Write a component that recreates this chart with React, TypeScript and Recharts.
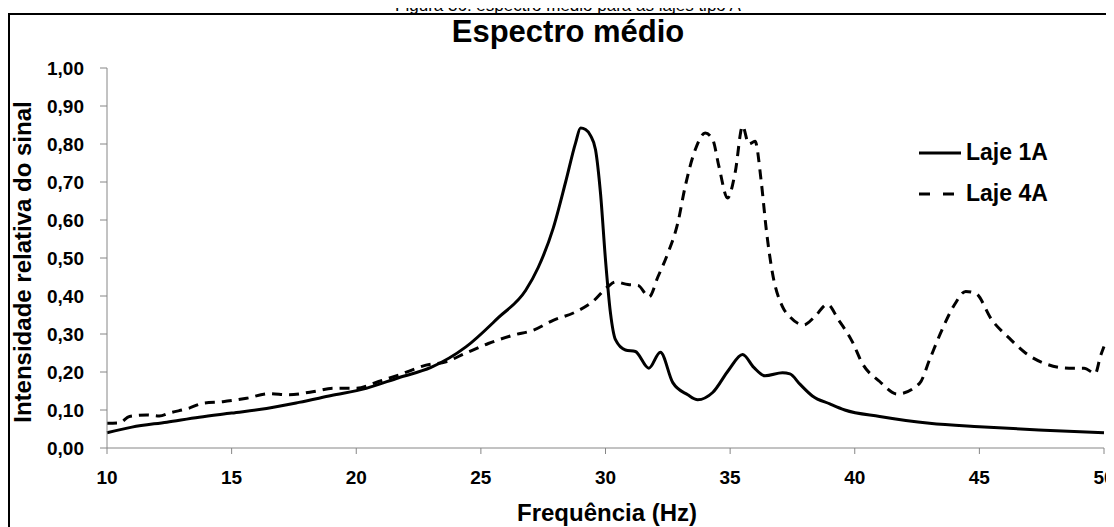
import React from 'react';
import { LineChart, Line, XAxis, YAxis, Legend } from 'recharts';

// Frequency (Hz) and relative signal intensity, slab 1A
const laje1aFreq = [
  10.0, 11.0, 12.4, 13.7, 15.0, 16.4, 17.7, 19.0, 20.4, 21.7, 23.0, 24.4, 25.7, 26.8, 27.3, 27.9,
  28.4, 28.8, 29.0, 29.2, 29.4, 29.6, 29.8, 30.0, 30.2, 30.4, 30.8, 31.2, 31.74, 32.2, 32.7, 33.3,
  33.7, 34.3, 34.95, 35.5, 35.95, 36.4, 37.1, 37.4, 37.8, 38.3, 39.0, 39.6, 41.0, 43.0, 45.0, 47.6, 50.0,
];
const laje1aValues = [
  0.040, 0.055, 0.068, 0.081, 0.092, 0.104, 0.120, 0.138, 0.157, 0.185, 0.212, 0.266, 0.343, 0.415, 0.475, 0.578,
  0.700, 0.803, 0.842, 0.838, 0.822, 0.785, 0.670, 0.495, 0.355, 0.285, 0.258, 0.254, 0.210, 0.252, 0.172, 0.140,
  0.127, 0.146, 0.206, 0.246, 0.212, 0.190, 0.198, 0.195, 0.168, 0.137, 0.116, 0.100, 0.083, 0.065, 0.056, 0.047, 0.040,
];

// Frequency (Hz) and relative signal intensity, slab 4A
const laje4aFreq = [
  10.0, 10.5, 10.9, 11.6, 12.1, 12.5, 13.3, 13.85, 14.65, 15.6, 16.5, 17.3, 18.25, 19.1, 20.0, 20.9,
  21.7, 22.8, 23.6, 24.4, 25.3, 26.3, 27.1, 27.9, 28.8, 29.5, 30.1, 30.4, 30.9, 31.3, 31.75, 32.1,
  32.5, 32.9, 33.2, 33.6, 34.0, 34.3, 34.55, 34.9, 35.2, 35.5, 35.75, 36.0, 36.25, 36.45, 36.7, 37.1,
  37.4, 37.95, 38.4, 38.9, 39.35, 39.9, 40.3, 41.0, 41.7, 42.6, 43.0, 43.5, 44.0, 44.45, 44.85, 45.5,
  46.2, 46.85, 47.6, 48.6, 49.2, 49.65, 49.85, 50.0,
];
const laje4aValues = [
  0.065, 0.066, 0.083, 0.087, 0.084, 0.092, 0.105, 0.118, 0.122, 0.131, 0.143, 0.140, 0.148, 0.157, 0.157, 0.175,
  0.192, 0.218, 0.227, 0.250, 0.275, 0.297, 0.310, 0.336, 0.358, 0.386, 0.425, 0.437, 0.430, 0.428, 0.398, 0.450,
  0.512, 0.592, 0.689, 0.785, 0.829, 0.812, 0.741, 0.658, 0.724, 0.847, 0.800, 0.807, 0.700, 0.575, 0.460, 0.372,
  0.345, 0.324, 0.346, 0.378, 0.337, 0.280, 0.223, 0.175, 0.142, 0.170, 0.232, 0.311, 0.377, 0.412, 0.407, 0.337,
  0.289, 0.250, 0.223, 0.210, 0.210, 0.196, 0.240, 0.267,
];

const xTicks = [10, 15, 20, 25, 30, 35, 40, 45, 50];
const yTicks = [0, 0.1, 0.2, 0.3, 0.4, 0.5, 0.6, 0.7, 0.8, 0.9, 1.0];

const seriesNames = ['Laje 1A', 'Laje 4A'];
const lineDash = ['', '10 7'];
const legendDash = ['', '11 13'];

const caption = 'Figura 36: espectro médio para as lajes tipo A';
const chartTitle = 'Espectro médio';
const xTitle = 'Frequência (Hz)';
const yTitle = 'Intensidade relativa do sinal';

const FONT = '"Liberation Sans", Arial, Helvetica, sans-serif';
const AXIS_GREY = '#868686';

const toPoints = (freq: number[], vals: number[]) => freq.map((f, i) => ({ f, v: vals[i] }));
const laje1aData = toPoints(laje1aFreq, laje1aValues);
const laje4aData = toPoints(laje4aFreq, laje4aValues);

const fmtY = (v: number) => v.toFixed(2).replace('.', ',');

const tickStyle = { fill: '#000', fontSize: 19, fontWeight: 'bold' as const, fontFamily: FONT };

const renderLegend = (props: any) => {
  const payload = props.payload || [];
  return (
    <div style={{ display: 'flex', flexDirection: 'column' }}>
      {payload.map((entry: any, i: number) => {
        const idx = Math.max(0, seriesNames.indexOf(entry.value));
        return (
          <div key={i} style={{ display: 'flex', alignItems: 'center', height: 41 }}>
            <svg width={42} height={8} style={{ display: 'block', marginRight: 5 }}>
              <line
                x1={0}
                y1={4}
                x2={42}
                y2={4}
                stroke="#000"
                strokeWidth={3}
                strokeDasharray={legendDash[idx] || undefined}
              />
            </svg>
            <span style={{ fontSize: 23, fontWeight: 'bold', color: '#000', fontFamily: FONT, whiteSpace: 'nowrap' }}>
              {entry.value}
            </span>
          </div>
        );
      })}
    </div>
  );
};

export default function App() {
  return (
    <div
      style={{
        position: 'relative',
        width: 1114,
        height: 527,
        margin: '-8px 0 0 -8px',
        overflow: 'hidden',
        background: '#fff',
        fontFamily: FONT,
      }}
    >
      <div
        style={{
          position: 'absolute',
          left: 0,
          top: -3,
          width: 1136,
          height: 15,
          textAlign: 'center',
          fontSize: 17,
          lineHeight: '17px',
          color: '#000',
          whiteSpace: 'nowrap',
        }}
      >
        {caption}
      </div>
      <div
        style={{
          position: 'absolute',
          left: 8,
          top: 13,
          width: 1200,
          height: 600,
          border: '2px solid #000',
          boxSizing: 'border-box',
        }}
      />
      <div
        style={{
          position: 'absolute',
          left: 0,
          top: 16,
          width: 1136,
          textAlign: 'center',
          fontSize: 31,
          lineHeight: '31px',
          fontWeight: 'bold',
          color: '#000',
        }}
      >
        {chartTitle}
      </div>
      <div style={{ position: 'absolute', left: 0, top: 0 }}>
        <LineChart width={1114} height={527} margin={{ top: 68, right: 10, bottom: 49, left: 47 }}>
          <XAxis
            dataKey="f"
            type="number"
            domain={[10, 50]}
            ticks={xTicks}
            height={30}
            stroke={AXIS_GREY}
            tickSize={6}
            tickMargin={17}
            tick={tickStyle}
            interval={0}
          />
          <YAxis
            type="number"
            domain={[0, 1]}
            ticks={yTicks}
            width={60}
            stroke={AXIS_GREY}
            tickSize={7}
            tickMargin={16}
            tick={tickStyle}
            tickFormatter={fmtY}
            interval={0}
          />
          <Legend
            layout="vertical"
            align="center"
            verticalAlign="middle"
            content={renderLegend}
            wrapperStyle={{ left: 919, top: 132, width: 190 }}
          />
          <Line
            data={laje1aData}
            dataKey="v"
            name={seriesNames[0]}
            type="monotone"
            stroke="#000"
            strokeWidth={3}
            dot={false}
            activeDot={false}
            isAnimationActive={false}
          />
          <Line
            data={laje4aData}
            dataKey="v"
            name={seriesNames[1]}
            type="monotone"
            stroke="#000"
            strokeWidth={3}
            strokeDasharray={lineDash[1]}
            dot={false}
            activeDot={false}
            isAnimationActive={false}
          />
        </LineChart>
      </div>
      <div
        style={{
          position: 'absolute',
          left: 407,
          top: 501,
          width: 400,
          textAlign: 'center',
          fontSize: 24,
          lineHeight: '24px',
          fontWeight: 'bold',
          color: '#000',
          whiteSpace: 'nowrap',
        }}
      >
        {xTitle}
      </div>
      <div
        style={{
          position: 'absolute',
          left: -177,
          top: 250,
          width: 400,
          height: 24,
          textAlign: 'center',
          fontSize: 24,
          lineHeight: '24px',
          fontWeight: 'bold',
          color: '#000',
          whiteSpace: 'nowrap',
          transform: 'rotate(-90deg)',
        }}
      >
        {yTitle}
      </div>
    </div>
  );
}
